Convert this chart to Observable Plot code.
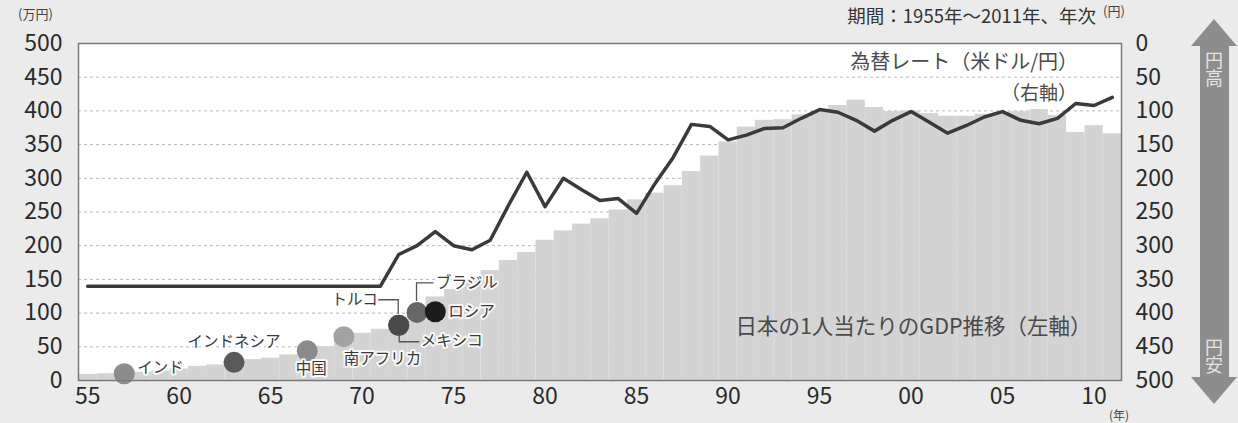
<!DOCTYPE html>
<html><head><meta charset="utf-8">
<script src="https://cdn.jsdelivr.net/npm/d3@7"></script>
<script src="https://cdn.jsdelivr.net/npm/@observablehq/plot@0.6"></script>
<style>
html,body{margin:0;padding:0;background:#ebebeb;}
#chart svg{display:block;}
</style></head><body><div id="chart"></div>
<script>
// ---- data ----
const years = [1955,1956,1957,1958,1959,1960,1961,1962,1963,1964,1965,1966,1967,1968,1969,
  1970,1971,1972,1973,1974,1975,1976,1977,1978,1979,1980,1981,1982,1983,1984,1985,1986,1987,
  1988,1989,1990,1991,1992,1993,1994,1995,1996,1997,1998,1999,2000,2001,2002,2003,2004,2005,
  2006,2007,2008,2009,2010,2011];
// 日本の1人当たりGDP（万円）
const gdp = [9,10,11,12,14,17,21,23,27,31,33,38,43,50,58,
  70,76,88,105,124,135,150,163,178,190,208,222,232,240,253,268,278,289,
  310,333,354,376,386,387,394,399,408,416,405,399,400,396,392,392,395,398,
  399,402,393,368,378,366];
// 為替レート（円/米ドル）
const rate = [360,360,360,360,360,360,360,360,360,360,360,360,360,360,360,
  360,360,313,300,279,300,306,292,240,191,242,200,217,233,230,252,208,169,
  120,123,143,136,126,125,111,98,102,114,130,114,101,117,133,122,109,101,
  114,119,111,89,92,80];
const countryNames = ["インド","インドネシア","中国","南アフリカ","トルコ","メキシコ","ブラジル","ロシア"];
const countryYears = [1957,1963,1967,1969,1972,1972,1973,1974];
const countryGdp   = [10,27,44,65,82,82,101,102];
const xTicks = [1955,1960,1965,1970,1975,1980,1985,1990,1995,2000,2005,2010];
const yTicks = [0,50,100,150,200,250,300,350,400,450,500];
const gridTicks = [50,100,150,200,250,300,350,400,450];

// ---- styles ----
const FONT = '"Noto Sans CJK JP", "Noto Sans", sans-serif';
const countryColors = ["#8c8c8c","#5a5a5a","#8a8a8a","#a2a2a2","#555555","#4a4a4a","#676767","#1c1c1c"];
const labelStyle = [
  {dx:13, dy:-6, anchor:"start"},
  {dx:0, dy:-20, anchor:"middle"},
  {dx:4, dy:18, anchor:"middle"},
  {dx:0, dy:22, anchor:"start"},
  {dx:-21, dy:-25, anchor:"end"},
  {dx:22, dy:16, anchor:"start"},
  {dx:19, dy:-29, anchor:"start"},
  {dx:13, dy:0, anchor:"start"}
];

const bars = years.map((y,i)=>({year:y, value:gdp[i]}));
const fxLine = years.map((y,i)=>({year:y, inv:500 - rate[i]}));
const countries = countryNames.map((n,i)=>({name:n, year:countryYears[i], value:countryGdp[i], color:countryColors[i]}));
const dotOrder = [0,1,2,3,4,6,5,7].map(i=>countries[i]);

const labelMarks = countries.map((c,i)=>Plot.text([c],{
  x:"year", y:"value", text:"name", dx:labelStyle[i].dx, dy:labelStyle[i].dy,
  textAnchor:labelStyle[i].anchor, fontSize:15.5, fill:"#3a3a3a",
  stroke:"white", strokeWidth:4, strokeOpacity:0.85, paintOrder:"stroke"
}));

const chart = Plot.plot({
  width:1238, height:423,
  marginLeft:78, marginRight:117, marginTop:43, marginBottom:43,
  style:{background:"transparent", fontFamily:FONT, color:"#2a2a2a", overflow:"visible"},
  x:{type:"band", domain:years, padding:0, round:false, axis:null, label:null},
  y:{domain:[0,500], axis:null, label:null},
  color:{type:"identity"},
  marks:[
    Plot.frame({fill:"white", stroke:"none"}),
    Plot.gridY(gridTicks,{stroke:"#b8b8b8", strokeOpacity:1, strokeDasharray:"3,3", strokeWidth:1}),
    Plot.barY(bars,{x:"year", y:"value", fill:"#d3d3d3"}),
    Plot.text(["日本の1人当たりのGDP推移（左軸）"],{frameAnchor:"top-left", dx:913-78, dy:318-43, text:d=>d, textAnchor:"middle", fontSize:21.5, fill:"#4a4a4a"}),
    Plot.line(fxLine,{x:"year", y:"inv", stroke:"#3a3a3a", strokeWidth:3.5, strokeLinejoin:"round"}),
    Plot.dot(dotOrder,{x:"year", y:"value", r:10.5, fill:"color"}),
    ...labelMarks,
    Plot.frame({stroke:"#7a7a7a", strokeWidth:1.5}),
    Plot.axisX({ticks:xTicks, tickSize:0, tickPadding:7, label:null, tickFormat:d=>String(d).slice(2), fontSize:23, fill:"#2a2a2a"}),
    Plot.axisY({ticks:yTicks, tickSize:0, tickPadding:16, label:null, fontSize:23, fill:"#2a2a2a"}),
    Plot.axisY({anchor:"right", ticks:yTicks, tickSize:0, tickPadding:14, label:null, tickFormat:d=>String(500-d), fontSize:23, fill:"#2a2a2a"})
  ]
});
document.getElementById("chart").appendChild(chart);

// ---- annotations ----
const svg = d3.select(chart);
const xs = chart.scale("x"), ys = chart.scale("y");
const cx = yr => xs.apply(yr) + xs.bandwidth/2;
const cy = v => ys.apply(v);

function addText(t, x, y, size, anchor, fill){
  return svg.append("text").attr("x",x).attr("y",y).attr("font-size",size)
    .attr("font-family",FONT).attr("text-anchor",anchor||"start").attr("fill",fill||"#333").text(t);
}
addText("(万円)", 18, 19, 13, "start", "#444");
addText("(円)", 1103, 16, 13, "start", "#444");
addText("(年)", 1119, 420, 12, "middle", "#444");
addText("期間：1955年〜2011年、年次", 1096, 23, 18.5, "end", "#333");
addText("為替レート（米ドル/円）", 1078, 69, 20, "end", "#4a4a4a");
addText("（右軸）", 1077, 100, 19, "end", "#4a4a4a");

// leader lines
const lead = svg.append("g").attr("fill","none").attr("stroke","#555").attr("stroke-width",1.3);
const mx = cx(1972), my = cy(82);
const bx = cx(1973), by = cy(101);
lead.append("path").attr("d",`M${mx-20},${my-25} H${mx} V${my-11}`);
lead.append("path").attr("d",`M${mx+1},${my+11} V${my+17} H${mx+21}`);
lead.append("path").attr("d",`M${bx},${by-11} V${by-29} H${bx+17}`);

// arrow 円高 / 円安
const ag = svg.append("g");
ag.append("path").attr("fill","#8d8d8d")
  .attr("d","M1214,19 L1237,46 L1229,46 L1229,377 L1237,377 L1214,404 L1191,377 L1200,377 L1200,46 L1191,46 Z");
[["円高",69],["円安",356]].forEach(([t,y])=>{
  ag.append("text").attr("x",1214).attr("y",y)
    .attr("writing-mode","vertical-rl").style("writing-mode","vertical-rl")
    .attr("font-size",18).attr("font-family",FONT).attr("fill","#e4e4e4").text(t);
});
</script></body></html>
